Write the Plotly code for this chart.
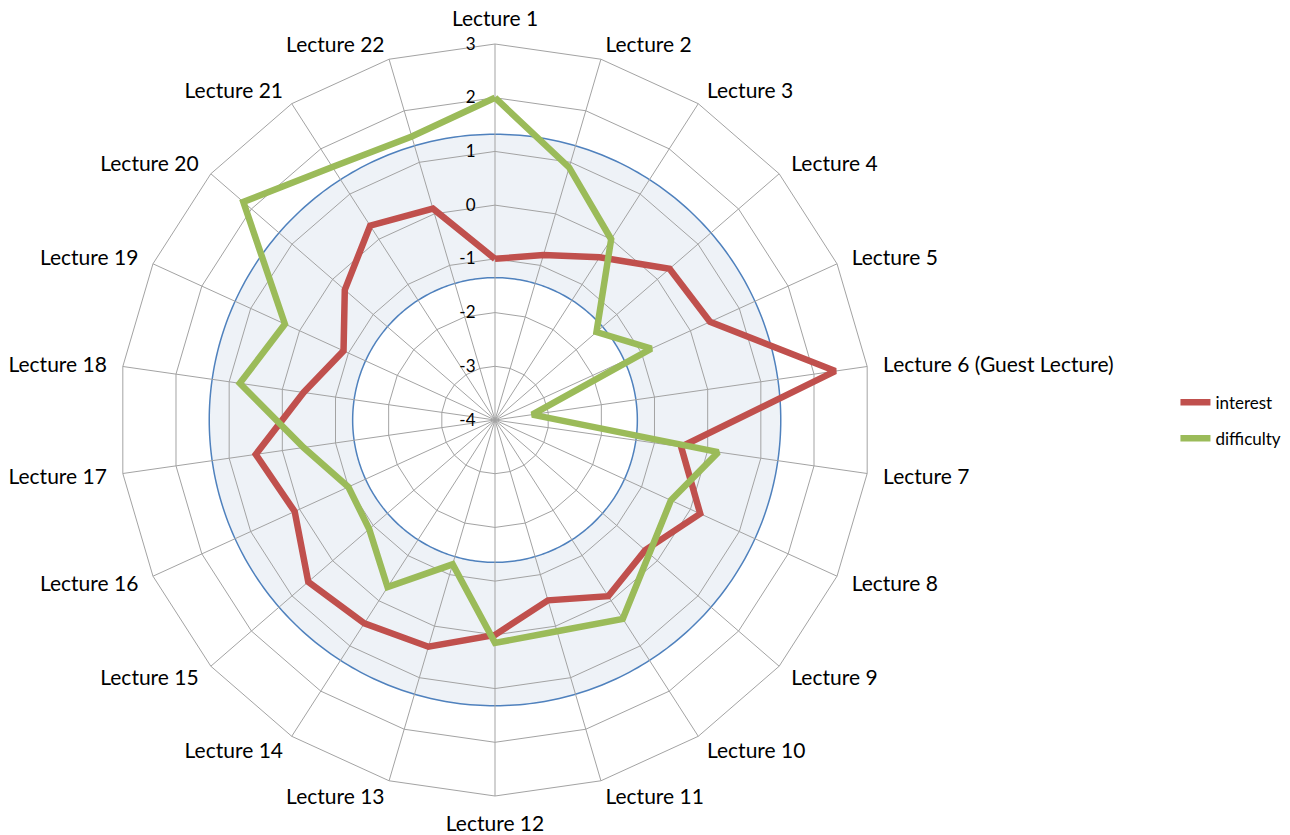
import numpy as np
import plotly.graph_objects as go

# ---- data ----
lectures = ["Lecture 1", "Lecture 2", "Lecture 3", "Lecture 4", "Lecture 5",
            "Lecture 6 (Guest Lecture)", "Lecture 7", "Lecture 8", "Lecture 9",
            "Lecture 10", "Lecture 11", "Lecture 12", "Lecture 13", "Lecture 14",
            "Lecture 15", "Lecture 16", "Lecture 17", "Lecture 18", "Lecture 19",
            "Lecture 20", "Lecture 21", "Lecture 22"]
interest = [-1.0, -0.8, -0.4, 0.3, 0.4, 2.4, -0.5, 0.2, -0.3, -0.1, -0.5,
            0.0, 0.4, 0.5, 0.6, 0.1, 0.5, -0.4, -0.9, -0.3, 0.3, 0.1]
difficulty = [2.0, 0.9, 0.0, -1.5, -0.8, -3.3, 0.2, -0.4, -0.2, 0.4, 0.1,
              0.15, -1.2, -0.3, -0.9, -1.0, -0.4, 0.8, 0.3, 2.2, 1.6, 1.5]
radial_ticks = [-4, -3, -2, -1, 0, 1, 2, 3]
radial_ticktext = ["-4", "-3", "-2", "-1", "0", "1", "2", "3"]
band_inner = -1.35
band_outer = 1.32
label_r = 3.3
label_range_max = 3.5

FONT = "Lato"
GRID = "#A3A3A3"
RED = "#C0504D"
GREEN = "#9BBB59"
BLUE = "#4F81BD"

n = len(lectures)
label_pos = []
for i in range(n):
    if i == 0:
        label_pos.append("top center")
    elif i == n // 2:
        label_pos.append("bottom center")
    elif i < n // 2:
        label_pos.append("middle right")
    else:
        label_pos.append("middle left")

fig = go.Figure()

# band (on a circular polar underneath)
circ = np.linspace(0, 360, 361)
fig.add_trace(go.Scatterpolar(r=[band_inner] * len(circ), theta=circ, mode="lines",
                              line=dict(color=BLUE, width=1.5), subplot="polar",
                              showlegend=False, hoverinfo="skip"))
fig.add_trace(go.Scatterpolar(r=[band_outer] * len(circ), theta=circ, mode="lines",
                              line=dict(color=BLUE, width=1.5), fill="tonext",
                              fillcolor="#EEF2F7", subplot="polar",
                              showlegend=False, hoverinfo="skip"))

# data series on categorical polygon polar
theta_closed = lectures + [lectures[0]]
fig.add_trace(go.Scatterpolar(r=interest + [interest[0]], theta=theta_closed,
                              mode="lines", name="interest",
                              line=dict(color=RED, width=6.5), subplot="polar2",
                              legendgroup="a"))
fig.add_trace(go.Scatterpolar(r=difficulty + [difficulty[0]], theta=theta_closed,
                              mode="lines", name="difficulty",
                              line=dict(color=GREEN, width=6.5), subplot="polar2",
                              legendgroup="b"))

# category labels (on a slightly larger polar so they sit outside the grid)
fig.add_trace(go.Scatterpolar(r=[label_r] * n, theta=lectures, mode="text",
                              text=lectures, textposition=label_pos,
                              textfont=dict(family=FONT, size=21, color="#000000"),
                              cliponaxis=False, subplot="polar3",
                              showlegend=False, hoverinfo="skip"))

W, H = 1290, 835
cx, cy, R = 487, 412, 376
R3 = R * (label_range_max + 4) / 7
label_dy = 3


def dom(rad, dy=0):
    return (dict(x=[(cx - rad) / W, (cx + rad) / W],
                 y=[(H - cy - dy - rad) / H, (H - cy - dy + rad) / H]))


fig.update_layout(
    width=W, height=H,
    margin=dict(l=0, r=0, t=0, b=0),
    paper_bgcolor="white",
    font=dict(family=FONT, size=21, color="#000000"),
    polar=dict(
        domain=dom(R),
        bgcolor="white",
        radialaxis=dict(range=[-4, 3], visible=False),
        angularaxis=dict(visible=False, rotation=90, direction="clockwise"),
    ),
    polar2=dict(
        domain=dom(R),
        bgcolor="rgba(0,0,0,0)",
        gridshape="linear",
        radialaxis=dict(range=[-4, 3], tickmode="array", tickvals=radial_ticks,
                        ticktext=radial_ticktext, angle=90,
                        tickangle=90, side="counterclockwise", showline=False,
                        gridcolor=GRID, gridwidth=1,
                        ticks="outside", ticklen=13, tickcolor="rgba(0,0,0,0)",
                        tickfont=dict(family=FONT, size=17, color="#000000")),
        angularaxis=dict(rotation=90, direction="clockwise", categoryorder="array",
                         categoryarray=lectures, gridcolor=GRID, gridwidth=1,
                         linecolor=GRID, linewidth=1, ticks="",
                         showticklabels=False),
    ),
    polar3=dict(
        domain=dom(R3, label_dy),
        bgcolor="rgba(0,0,0,0)",
        radialaxis=dict(range=[-4, label_range_max], visible=False),
        angularaxis=dict(visible=False, rotation=90, direction="clockwise",
                         categoryorder="array", categoryarray=lectures),
    ),
    legend=dict(x=0.905, y=0.549, xanchor="left", yanchor="top",
                font=dict(family=FONT, size=17, color="#000000"),
                traceorder="grouped", tracegroupgap=11,
                bgcolor="rgba(0,0,0,0)"),
)

fig.write_html("out.html")
